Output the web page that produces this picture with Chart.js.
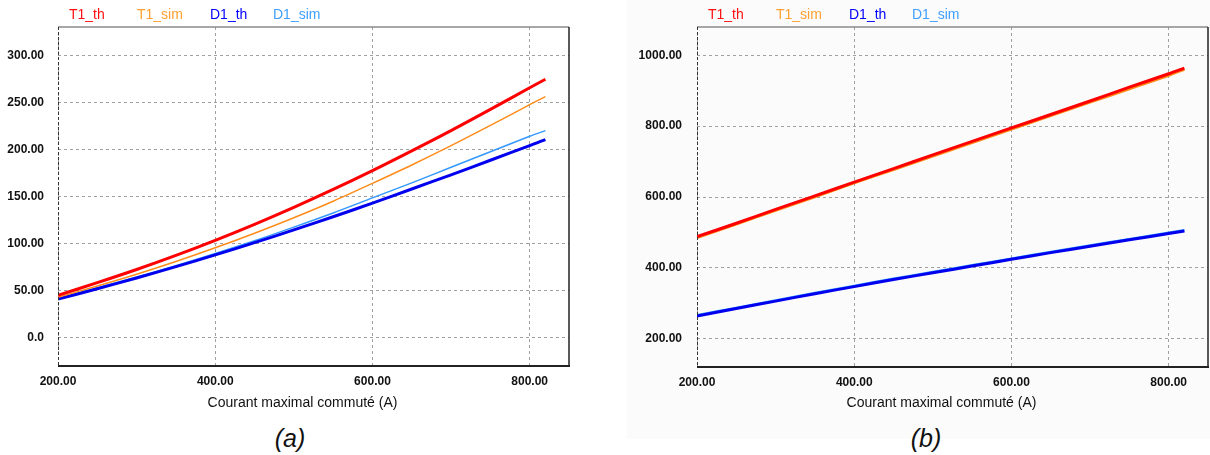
<!DOCTYPE html>
<html>
<head>
<meta charset="utf-8">
<script src="https://cdn.jsdelivr.net/npm/chart.js@4.4.0/dist/chart.umd.min.js"></script>
<style>
  body { margin: 0; background: #fff; width: 1210px; height: 455px; position: relative; overflow: hidden;
         font-family: "Liberation Sans", Arial, sans-serif; }
  #panelB { position: absolute; left: 627px; top: 0; width: 583px; height: 439px; background: #fbfbfb; }
  canvas { position: absolute; top: 0; }
  #chartA { left: 0; }
  #chartB { left: 605px; }
  .cap { position: absolute; top: 424px; width: 100px; text-align: center; font-style: italic;
         font-size: 25px; line-height: 28px; color: #111; }
</style>
</head>
<body>
<div id="panelB"></div>
<canvas id="chartA" width="605" height="420"></canvas>
<canvas id="chartB" width="605" height="420"></canvas>
<div class="cap" style="left:240px">(a)</div>
<div class="cap" style="left:876px">(b)</div>

<script>
// x values (courant maximal commuté, A)
const current = [200, 250, 300, 350, 400, 450, 500, 550, 600, 650, 700, 750, 800, 820];

const seriesNames = ['T1_th', 'T1_sim', 'D1_th', 'D1_sim'];
const lineColors = ['#ff0000', '#ff8c1a', '#0000ee', '#3399ff'];
const legendColors = ['#ff1010', '#ffa030', '#0000ff', '#40a0ff'];

// chart (a)
const t1ThA  = [45, 58.5, 72.5, 87.5, 103.5, 120.5, 138.5, 157.5, 177.5, 198.5, 220, 242.5, 265.5, 274.5];
const t1SimA = [43, 55, 67.5, 81, 95.5, 111, 127.5, 145, 164, 183.5, 204, 225.5, 247.5, 256];
const d1ThA  = [41, 52, 63.5, 75.5, 88, 101, 114.5, 128.5, 143, 158, 173, 188.5, 204, 210.5];
const d1SimA = [42, 53, 64.5, 76.5, 89.5, 103, 117.5, 132.5, 148.5, 164.5, 181, 197.5, 214, 220];

// chart (b)
const t1ThB  = [488, 526, 565, 603, 642, 680, 719, 757, 795, 833, 871, 910, 948, 964];
const t1SimB = [485, 523, 562, 600, 639, 677, 715, 753, 791, 829, 867, 905, 943, 960];
const d1ThB  = [264, 285, 306, 327, 347, 367, 386, 405, 424, 443, 461, 479, 497, 504];
const d1SimB = [266, 287, 308, 329, 349, 369, 388, 407, 426, 445, 463, 481, 499, 506];

// ticks
const xTicks = [200, 400, 600, 800];
const xTickLabels = ['200.00', '400.00', '600.00', '800.00'];
const yTicksA = [0, 50, 100, 150, 200, 250, 300];
const yTickLabelsA = ['0.0', '50.00', '100.00', '150.00', '200.00', '250.00', '300.00'];
const yTicksB = [200, 400, 600, 800, 1000];
const yTickLabelsB = ['200.00', '400.00', '600.00', '800.00', '1000.00'];

const xTitle = 'Courant maximal commuté (A)';

const FONT = '"Liberation Sans", Arial, sans-serif';
const legendOffsets = [11, 79, 152, 215];

function line(ctx, x1, y1, x2, y2) {
    ctx.beginPath();
    ctx.moveTo(x1, y1);
    ctx.lineTo(x2, y2);
    ctx.stroke();
}

// frame, coloured legend text and x title
const decor = {
    id: 'decor',
    afterDraw(chart) {
        const { ctx, chartArea: a } = chart;
        ctx.save();
        ctx.lineWidth = 1.5;
        ctx.strokeStyle = '#8a8a8a';
        line(ctx, a.left, a.top, a.right, a.top);
        ctx.strokeStyle = '#222';
        line(ctx, a.right, a.top, a.right, a.bottom);
        ctx.lineWidth = 2;
        line(ctx, a.left, a.bottom, a.right + 1, a.bottom);
        ctx.lineWidth = 1;
        ctx.setLineDash([3, 2]);
        ctx.strokeStyle = '#333';
        line(ctx, a.left + 0.5, a.top, a.left + 0.5, a.bottom);
        ctx.setLineDash([]);

        ctx.font = '14px ' + FONT;
        ctx.textBaseline = 'middle';
        chart.data.datasets.forEach((d, i) => {
            ctx.fillStyle = legendColors[i];
            ctx.fillText(d.label, a.left + legendOffsets[i], 15);
        });

        ctx.fillStyle = '#111';
        ctx.textAlign = 'center';
        ctx.fillText(xTitle, (a.left + a.right) / 2 - 11, 403);
        ctx.restore();
    }
};

function makeChart(id, series, simWidth, yMin, yMax, yTicks, yLabels, box) {
    const datasets = series.map((vals, i) => ({
        label: seriesNames[i],
        data: current.map((x, j) => ({ x, y: vals[j] })),
        borderColor: lineColors[i],
        borderWidth: i % 2 === 0 ? 3 : simWidth,
        pointRadius: 0,
        tension: 0.3,
        fill: false
    }));

    const tickFont = { family: FONT, size: 12, weight: 'bold' };
    const grid = { color: '#a0a0a0', lineWidth: 1, drawTicks: false };

    return new Chart(document.getElementById(id), {
        type: 'line',
        data: { datasets },
        options: {
            responsive: false,
            animation: false,
            layout: { padding: { left: 0, right: box.right, top: 27, bottom: 0 } },
            plugins: { legend: { display: false }, tooltip: { enabled: false } },
            scales: {
                x: {
                    type: 'linear',
                    min: 200,
                    max: 850,
                    afterBuildTicks: s => { s.ticks = xTicks.map(v => ({ value: v })); },
                    afterFit: s => { s.height = box.xh; },
                    ticks: {
                        color: '#111',
                        font: tickFont,
                        padding: 8,
                        maxRotation: 0,
                        callback: v => xTickLabels[xTicks.indexOf(v)]
                    },
                    grid,
                    border: { display: false, dash: [3, 3] }
                },
                y: {
                    min: yMin,
                    max: yMax,
                    afterBuildTicks: s => { s.ticks = yTicks.map(v => ({ value: v })); },
                    afterFit: s => { s.width = box.yw; },
                    ticks: {
                        color: '#111',
                        font: tickFont,
                        padding: box.pad,
                        callback: v => yLabels[yTicks.indexOf(v)]
                    },
                    grid,
                    border: { display: false, dash: [3, 3] }
                }
            }
        },
        plugins: [decor]
    });
}

makeChart('chartA', [t1ThA, t1SimA, d1ThA, d1SimA], 1.5, -30, 330, yTicksA, yTickLabelsA,
    { right: 36, xh: 54, yw: 58, pad: 14 });
makeChart('chartB', [t1ThB, t1SimB, d1ThB, d1SimB], 2.5, 120, 1080, yTicksB, yTickLabelsB,
    { right: 2, xh: 53, yw: 92, pad: 15 });
</script>
</body>
</html>
